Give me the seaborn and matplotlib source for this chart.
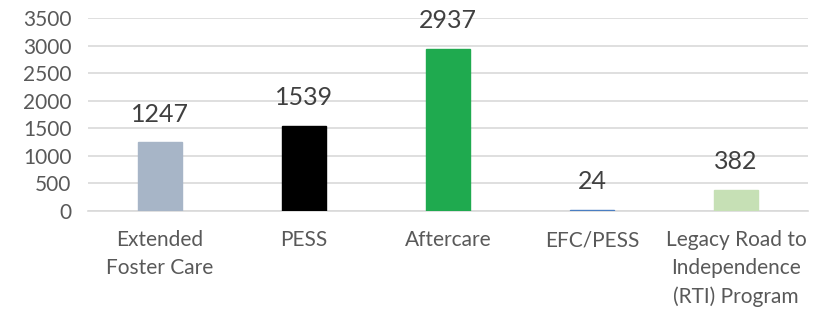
import pandas as pd
import numpy as np
import matplotlib.pyplot as plt
import seaborn as sns

# 데이터
programs = ['Extended\nFoster Care', 'PESS', 'Aftercare', 'EFC/PESS',
            'Legacy Road to\nIndependence\n(RTI) Program']
counts = [1247, 1539, 2937, 24, 382]
colors = ['#A7B5C7', '#000000', '#1FAA4F', '#4A7EC2', '#C6E0B5']

df = pd.DataFrame({'program': programs, 'count': counts})

sns.set_style('white')
plt.rcParams['font.family'] = ['Lato', 'DejaVu Sans']

fig = plt.figure(figsize=(8.23, 3.09), dpi=100)
ax = fig.add_axes([0.107, 0.317, 0.875, 0.625])

sns.barplot(data=df, x='program', y='count', hue='program', palette=colors,
            width=0.31, saturation=1, legend=False, ax=ax, zorder=3)
# 작은 막대도 보이게 테두리
for p in ax.patches:
    p.set_edgecolor(p.get_facecolor())
    p.set_linewidth(1)

# 값 라벨
for i, v in enumerate(counts):
    ax.annotate(str(v), (i, v), xytext=(0, 12), textcoords='offset points',
                ha='center', va='bottom', fontsize=18, color='#404040')

ax.set_ylim(0, 3500)
ax.set_yticks(np.arange(0, 3501, 500))
ax.set_xlim(-0.5, 4.5)
ax.grid(axis='y', color='#D9D9D9', linewidth=1.2, zorder=0)
for s in ['top', 'right', 'left']:
    ax.spines[s].set_visible(False)
ax.spines['bottom'].set_color('#D9D9D9')
ax.spines['bottom'].set_linewidth(1.2)
ax.spines['bottom'].set_zorder(1)
ax.set_xlabel('')
ax.set_ylabel('')
ax.tick_params(axis='both', length=0, labelsize=15, colors='#595959')
ax.tick_params(axis='x', pad=14)
ax.tick_params(axis='y', pad=12)
for lbl in ax.get_xticklabels():
    lbl.set_linespacing(1.5)

plt.savefig('out.png', dpi=100)
